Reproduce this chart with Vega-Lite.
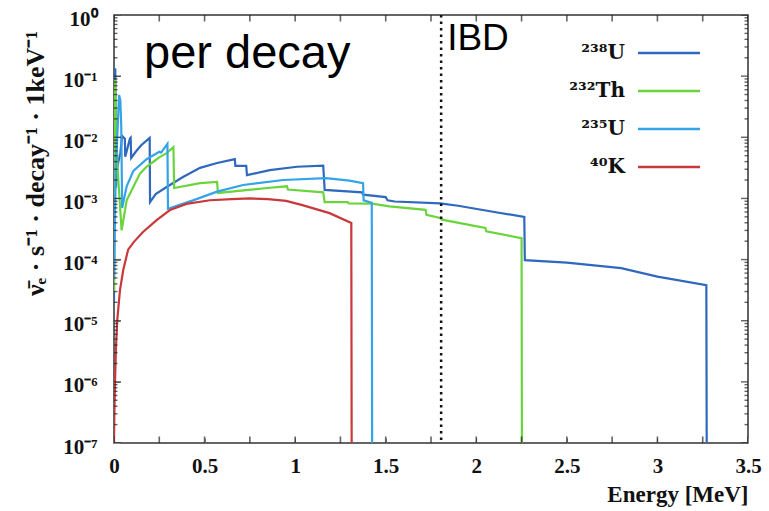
{
  "$schema": "https://vega.github.io/schema/vega-lite/v6.json",
  "width": 634,
  "height": 428,
  "autosize": {"type": "none"},
  "padding": {"left": 114, "top": 15, "right": 21, "bottom": 68},
  "background": "white",
  "config": {
    "view": {"stroke": "#333", "strokeWidth": 1.5},
    "axis": {
      "grid": false,
      "domain": false,
      "labelFont": "Liberation Serif",
      "labelFontWeight": "bold",
      "labelColor": "#111",
      "titleFont": "Liberation Serif",
      "titleFontWeight": "bold",
      "titleColor": "#111",
      "labelOverlap": false,
      "labelBound": false,
      "labelFlush": false
    }
  },
  "datasets": {
    "xticks": [
      {"E": 0}, {"E": 0.25}, {"E": 0.5}, {"E": 0.75}, {"E": 1}, {"E": 1.25}, {"E": 1.5}, {"E": 1.75},
      {"E": 2}, {"E": 2.25}, {"E": 2.5}, {"E": 2.75}, {"E": 3}, {"E": 3.25}, {"E": 3.5}
    ],
    "yticks": [
      {"flux": 1e-7}, {"flux": 2e-7}, {"flux": 3e-7}, {"flux": 4e-7}, {"flux": 5e-7}, {"flux": 6e-7}, {"flux": 7e-7}, {"flux": 8e-7}, {"flux": 9e-7},
      {"flux": 1e-6}, {"flux": 2e-6}, {"flux": 3e-6}, {"flux": 4e-6}, {"flux": 5e-6}, {"flux": 6e-6}, {"flux": 7e-6}, {"flux": 8e-6}, {"flux": 9e-6},
      {"flux": 1e-5}, {"flux": 2e-5}, {"flux": 3e-5}, {"flux": 4e-5}, {"flux": 5e-5}, {"flux": 6e-5}, {"flux": 7e-5}, {"flux": 8e-5}, {"flux": 9e-5},
      {"flux": 0.0001}, {"flux": 0.0002}, {"flux": 0.0003}, {"flux": 0.0004}, {"flux": 0.0005}, {"flux": 0.0006}, {"flux": 0.0007}, {"flux": 0.0008}, {"flux": 0.0009},
      {"flux": 0.001}, {"flux": 0.002}, {"flux": 0.003}, {"flux": 0.004}, {"flux": 0.005}, {"flux": 0.006}, {"flux": 0.007}, {"flux": 0.008}, {"flux": 0.009},
      {"flux": 0.01}, {"flux": 0.02}, {"flux": 0.03}, {"flux": 0.04}, {"flux": 0.05}, {"flux": 0.06}, {"flux": 0.07}, {"flux": 0.08}, {"flux": 0.09},
      {"flux": 0.1}, {"flux": 0.2}, {"flux": 0.3}, {"flux": 0.4}, {"flux": 0.5}, {"flux": 0.6}, {"flux": 0.7}, {"flux": 0.8}, {"flux": 0.9},
      {"flux": 1}
    ]
  },
  "layer": [
    {
      "data": {
        "values": [
          {"E": 0, "flux": 2e-5, "iso": "²³⁸U"},
          {"E": 0.004, "flux": 0.0316, "iso": "²³⁸U"},
          {"E": 0.007, "flux": 0.135, "iso": "²³⁸U"},
          {"E": 0.009, "flux": 0.01, "iso": "²³⁸U"},
          {"E": 0.011, "flux": 0.0015, "iso": "²³⁸U"},
          {"E": 0.02, "flux": 0.0035, "iso": "²³⁸U"},
          {"E": 0.035, "flux": 0.0055, "iso": "²³⁸U"},
          {"E": 0.045, "flux": 0.0105, "iso": "²³⁸U"},
          {"E": 0.06, "flux": 0.0095, "iso": "²³⁸U"},
          {"E": 0.062, "flux": 0.0048, "iso": "²³⁸U"},
          {"E": 0.088, "flux": 0.0095, "iso": "²³⁸U"},
          {"E": 0.092, "flux": 0.0098, "iso": "²³⁸U"},
          {"E": 0.095, "flux": 0.0046, "iso": "²³⁸U"},
          {"E": 0.12, "flux": 0.0058, "iso": "²³⁸U"},
          {"E": 0.15, "flux": 0.0074, "iso": "²³⁸U"},
          {"E": 0.197, "flux": 0.0098, "iso": "²³⁸U"},
          {"E": 0.199, "flux": 0.00087, "iso": "²³⁸U"},
          {"E": 0.23, "flux": 0.00118, "iso": "²³⁸U"},
          {"E": 0.293, "flux": 0.00155, "iso": "²³⁸U"},
          {"E": 0.381, "flux": 0.00224, "iso": "²³⁸U"},
          {"E": 0.475, "flux": 0.00316, "iso": "²³⁸U"},
          {"E": 0.569, "flux": 0.0038, "iso": "²³⁸U"},
          {"E": 0.667, "flux": 0.0044, "iso": "²³⁸U"},
          {"E": 0.67, "flux": 0.0034, "iso": "²³⁸U"},
          {"E": 0.73, "flux": 0.0034, "iso": "²³⁸U"},
          {"E": 0.734, "flux": 0.0024, "iso": "²³⁸U"},
          {"E": 0.86, "flux": 0.0029, "iso": "²³⁸U"},
          {"E": 1.01, "flux": 0.0033, "iso": "²³⁸U"},
          {"E": 1.155, "flux": 0.00345, "iso": "²³⁸U"},
          {"E": 1.163, "flux": 0.00138, "iso": "²³⁸U"},
          {"E": 1.37, "flux": 0.00126, "iso": "²³⁸U"},
          {"E": 1.375, "flux": 0.00115, "iso": "²³⁸U"},
          {"E": 1.5, "flux": 0.00105, "iso": "²³⁸U"},
          {"E": 1.51, "flux": 0.00093, "iso": "²³⁸U"},
          {"E": 1.55, "flux": 0.00089, "iso": "²³⁸U"},
          {"E": 1.8, "flux": 0.00083, "iso": "²³⁸U"},
          {"E": 1.9, "flux": 0.00076, "iso": "²³⁸U"},
          {"E": 2.1, "flux": 0.0006, "iso": "²³⁸U"},
          {"E": 2.265, "flux": 0.0005, "iso": "²³⁸U"},
          {"E": 2.268, "flux": 0.0000977, "iso": "²³⁸U"},
          {"E": 2.5, "flux": 0.0000891, "iso": "²³⁸U"},
          {"E": 2.8, "flux": 0.0000724, "iso": "²³⁸U"},
          {"E": 3.0, "flux": 0.0000525, "iso": "²³⁸U"},
          {"E": 3.27, "flux": 0.000038, "iso": "²³⁸U"},
          {"E": 3.272, "flux": 1e-7, "iso": "²³⁸U"},

          {"E": 0, "flux": 3e-5, "iso": "²³²Th"},
          {"E": 0.003, "flux": 0.0794, "iso": "²³²Th"},
          {"E": 0.006, "flux": 0.087, "iso": "²³²Th"},
          {"E": 0.01, "flux": 0.02, "iso": "²³²Th"},
          {"E": 0.02, "flux": 0.003, "iso": "²³²Th"},
          {"E": 0.042, "flux": 0.0003, "iso": "²³²Th"},
          {"E": 0.07, "flux": 0.00093, "iso": "²³²Th"},
          {"E": 0.107, "flux": 0.00155, "iso": "²³²Th"},
          {"E": 0.144, "flux": 0.00257, "iso": "²³²Th"},
          {"E": 0.18, "flux": 0.0033, "iso": "²³²Th"},
          {"E": 0.217, "flux": 0.00398, "iso": "²³²Th"},
          {"E": 0.254, "flux": 0.00479, "iso": "²³²Th"},
          {"E": 0.291, "flux": 0.0055, "iso": "²³²Th"},
          {"E": 0.328, "flux": 0.0069, "iso": "²³²Th"},
          {"E": 0.332, "flux": 0.00148, "iso": "²³²Th"},
          {"E": 0.475, "flux": 0.00178, "iso": "²³²Th"},
          {"E": 0.569, "flux": 0.00186, "iso": "²³²Th"},
          {"E": 0.574, "flux": 0.00123, "iso": "²³²Th"},
          {"E": 0.845, "flux": 0.00148, "iso": "²³²Th"},
          {"E": 0.955, "flux": 0.00158, "iso": "²³²Th"},
          {"E": 0.96, "flux": 0.0014, "iso": "²³²Th"},
          {"E": 1.155, "flux": 0.00126, "iso": "²³²Th"},
          {"E": 1.163, "flux": 0.00087, "iso": "²³²Th"},
          {"E": 1.29, "flux": 0.00087, "iso": "²³²Th"},
          {"E": 1.295, "flux": 0.00083, "iso": "²³²Th"},
          {"E": 1.425, "flux": 0.00082, "iso": "²³²Th"},
          {"E": 1.52, "flux": 0.00074, "iso": "²³²Th"},
          {"E": 1.72, "flux": 0.00065, "iso": "²³²Th"},
          {"E": 1.725, "flux": 0.00054, "iso": "²³²Th"},
          {"E": 1.8, "flux": 0.00048, "iso": "²³²Th"},
          {"E": 1.81, "flux": 0.00045, "iso": "²³²Th"},
          {"E": 2.05, "flux": 0.00033, "iso": "²³²Th"},
          {"E": 2.055, "flux": 0.00029, "iso": "²³²Th"},
          {"E": 2.25, "flux": 0.000224, "iso": "²³²Th"},
          {"E": 2.252, "flux": 1e-7, "iso": "²³²Th"},

          {"E": 0, "flux": 5e-5, "iso": "²³⁵U"},
          {"E": 0.01, "flux": 0.003, "iso": "²³⁵U"},
          {"E": 0.028, "flux": 0.049, "iso": "²³⁵U"},
          {"E": 0.035, "flux": 0.04, "iso": "²³⁵U"},
          {"E": 0.04, "flux": 0.015, "iso": "²³⁵U"},
          {"E": 0.045, "flux": 0.0007, "iso": "²³⁵U"},
          {"E": 0.07, "flux": 0.00158, "iso": "²³⁵U"},
          {"E": 0.107, "flux": 0.00282, "iso": "²³⁵U"},
          {"E": 0.18, "flux": 0.00437, "iso": "²³⁵U"},
          {"E": 0.25, "flux": 0.0058, "iso": "²³⁵U"},
          {"E": 0.26, "flux": 0.0056, "iso": "²³⁵U"},
          {"E": 0.295, "flux": 0.0078, "iso": "²³⁵U"},
          {"E": 0.298, "flux": 0.00068, "iso": "²³⁵U"},
          {"E": 0.436, "flux": 0.00093, "iso": "²³⁵U"},
          {"E": 0.569, "flux": 0.00129, "iso": "²³⁵U"},
          {"E": 0.713, "flux": 0.00166, "iso": "²³⁵U"},
          {"E": 0.934, "flux": 0.002, "iso": "²³⁵U"},
          {"E": 1.17, "flux": 0.00214, "iso": "²³⁵U"},
          {"E": 1.3, "flux": 0.00195, "iso": "²³⁵U"},
          {"E": 1.375, "flux": 0.00178, "iso": "²³⁵U"},
          {"E": 1.378, "flux": 0.00093, "iso": "²³⁵U"},
          {"E": 1.423, "flux": 0.00085, "iso": "²³⁵U"},
          {"E": 1.425, "flux": 1e-7, "iso": "²³⁵U"},

          {"E": 0, "flux": 1e-7, "iso": "⁴⁰K"},
          {"E": 0.002, "flux": 3e-7, "iso": "⁴⁰K"},
          {"E": 0.006, "flux": 1.07e-6, "iso": "⁴⁰K"},
          {"E": 0.011, "flux": 3.7e-6, "iso": "⁴⁰K"},
          {"E": 0.018, "flux": 1.02e-5, "iso": "⁴⁰K"},
          {"E": 0.033, "flux": 3.16e-5, "iso": "⁴⁰K"},
          {"E": 0.051, "flux": 6.76e-5, "iso": "⁴⁰K"},
          {"E": 0.078, "flux": 0.000145, "iso": "⁴⁰K"},
          {"E": 0.11, "flux": 0.000195, "iso": "⁴⁰K"},
          {"E": 0.16, "flux": 0.000282, "iso": "⁴⁰K"},
          {"E": 0.237, "flux": 0.000447, "iso": "⁴⁰K"},
          {"E": 0.309, "flux": 0.000646, "iso": "⁴⁰K"},
          {"E": 0.4, "flux": 0.000813, "iso": "⁴⁰K"},
          {"E": 0.53, "flux": 0.000933, "iso": "⁴⁰K"},
          {"E": 0.65, "flux": 0.000977, "iso": "⁴⁰K"},
          {"E": 0.75, "flux": 0.001, "iso": "⁴⁰K"},
          {"E": 0.85, "flux": 0.000977, "iso": "⁴⁰K"},
          {"E": 0.95, "flux": 0.000912, "iso": "⁴⁰K"},
          {"E": 1.04, "flux": 0.000776, "iso": "⁴⁰K"},
          {"E": 1.19, "flux": 0.000575, "iso": "⁴⁰K"},
          {"E": 1.31, "flux": 0.000398, "iso": "⁴⁰K"},
          {"E": 1.312, "flux": 1e-7, "iso": "⁴⁰K"}
        ]
      },
      "mark": {"type": "line", "strokeWidth": 2.2, "clip": true},
      "encoding": {
        "x": {
          "field": "E",
          "type": "quantitative",
          "scale": {"domain": [0, 3.5], "nice": false, "zero": false},
          "axis": {
            "orient": "bottom",
            "offset": -5,
            "values": [0, 0.5, 1, 1.5, 2, 2.5, 3, 3.5],
            "format": "~g",
            "tickSize": 5,
            "labelPadding": 12,
            "labelFontSize": 21,
            "title": "Energy [MeV]",
            "titleFontSize": 23,
            "titleAnchor": "end",
            "titlePadding": 7
          }
        },
        "y": {
          "field": "flux",
          "type": "quantitative",
          "scale": {"type": "log", "domain": [1e-7, 1], "nice": false},
          "axis": {
            "orient": "left",
            "offset": -6,
            "values": [1e-7, 1e-6, 1e-5, 0.0001, 0.001, 0.01, 0.1, 1],
            "labelExpr": "'10' + ['⁰','⁻¹','⁻²','⁻³','⁻⁴','⁻⁵','⁻⁶','⁻⁷'][round(-log(datum.value)/LN10)]",
            "tickSize": 6,
            "labelPadding": 17,
            "labelFontSize": 21,
            "labelOffset": 4,
            "title": "ν̄ₑ · s⁻¹ · decay⁻¹ · 1keV⁻¹",
            "titleFontSize": 26,
            "titleAngle": -90,
            "titleX": -85,
            "titleY": 148,
            "titleAlign": "center",
            "titleBaseline": "middle"
          }
        },
        "color": {
          "field": "iso",
          "type": "nominal",
          "scale": {
            "domain": ["²³⁸U", "²³²Th", "²³⁵U", "⁴⁰K"],
            "range": ["#2f68bd", "#6ad43c", "#35a3e8", "#c9383a"]
          },
          "legend": {
            "orient": "none",
            "legendX": 543,
            "legendY": 26,
            "title": null,
            "padding": 0,
            "symbolType": "M-3,0H3",
            "symbolSize": 427,
            "symbolStrokeWidth": 2.5,
            "labelAlign": "right",
            "labelOffset": -56,
            "labelFont": "DejaVu Serif",
            "labelFontWeight": "bold",
            "labelFontSize": 20,
            "labelColor": "#111",
            "rowPadding": 16
          }
        }
      }
    },
    {
      "data": {"name": "xticks"},
      "mark": {"type": "tick", "orient": "vertical", "clip": true, "size": 13, "thickness": 1.6, "color": "#222"},
      "encoding": {
        "x": {"field": "E", "type": "quantitative", "scale": {"domain": [0, 3.5], "nice": false, "zero": false}, "axis": null},
        "y": {"datum": 1e-7, "type": "quantitative", "scale": {"type": "log", "domain": [1e-7, 1], "nice": false}, "axis": null}
      }
    },
    {
      "data": {"name": "xticks"},
      "mark": {"type": "tick", "orient": "vertical", "clip": true, "size": 13, "thickness": 1.6, "color": "#222"},
      "encoding": {
        "x": {"field": "E", "type": "quantitative", "scale": {"domain": [0, 3.5], "nice": false, "zero": false}, "axis": null},
        "y": {"datum": 1, "type": "quantitative", "scale": {"type": "log", "domain": [1e-7, 1], "nice": false}, "axis": null}
      }
    },
    {
      "data": {"name": "yticks"},
      "mark": {"type": "tick", "orient": "horizontal", "clip": true, "thickness": 1.4, "color": "#222"},
      "encoding": {
        "y": {"field": "flux", "type": "quantitative", "scale": {"type": "log", "domain": [1e-7, 1], "nice": false}, "axis": null},
        "x": {"datum": 0, "type": "quantitative", "scale": {"domain": [0, 3.5], "nice": false, "zero": false}, "axis": null},
        "size": {"condition": {"test": "abs(log(datum.flux)/LN10 - round(log(datum.flux)/LN10)) < 0.001", "value": 14}, "value": 7}
      }
    },
    {
      "data": {"name": "yticks"},
      "mark": {"type": "tick", "orient": "horizontal", "clip": true, "thickness": 1.4, "color": "#222"},
      "encoding": {
        "y": {"field": "flux", "type": "quantitative", "scale": {"type": "log", "domain": [1e-7, 1], "nice": false}, "axis": null},
        "x": {"datum": 3.5, "type": "quantitative", "scale": {"domain": [0, 3.5], "nice": false, "zero": false}, "axis": null},
        "size": {"condition": {"test": "abs(log(datum.flux)/LN10 - round(log(datum.flux)/LN10)) < 0.001", "value": 14}, "value": 7}
      }
    },
    {
      "data": {"values": [{}]},
      "mark": {"type": "rule", "strokeDash": [2.5, 4], "strokeWidth": 2.5, "color": "#111"},
      "encoding": {
        "x": {"datum": 1.806, "type": "quantitative", "scale": {"domain": [0, 3.5], "nice": false, "zero": false}, "axis": null}
      }
    },
    {
      "data": {"values": [{}]},
      "mark": {"type": "text", "text": "per decay", "font": "Liberation Sans", "fontSize": 47, "align": "left", "baseline": "alphabetic", "color": "#000"},
      "encoding": {
        "x": {"datum": 0.166, "type": "quantitative", "scale": {"domain": [0, 3.5], "nice": false, "zero": false}, "axis": null},
        "y": {"datum": 0.136, "type": "quantitative", "scale": {"type": "log", "domain": [1e-7, 1], "nice": false}, "axis": null}
      }
    },
    {
      "data": {"values": [{}]},
      "mark": {"type": "text", "text": "IBD", "font": "Liberation Sans", "fontSize": 37, "align": "left", "baseline": "alphabetic", "dx": 6, "color": "#000"},
      "encoding": {
        "x": {"datum": 1.806, "type": "quantitative", "scale": {"domain": [0, 3.5], "nice": false, "zero": false}, "axis": null},
        "y": {"datum": 0.268, "type": "quantitative", "scale": {"type": "log", "domain": [1e-7, 1], "nice": false}, "axis": null}
      }
    }
  ],
  "resolve": {"axis": {"x": "independent", "y": "independent"}}
}
